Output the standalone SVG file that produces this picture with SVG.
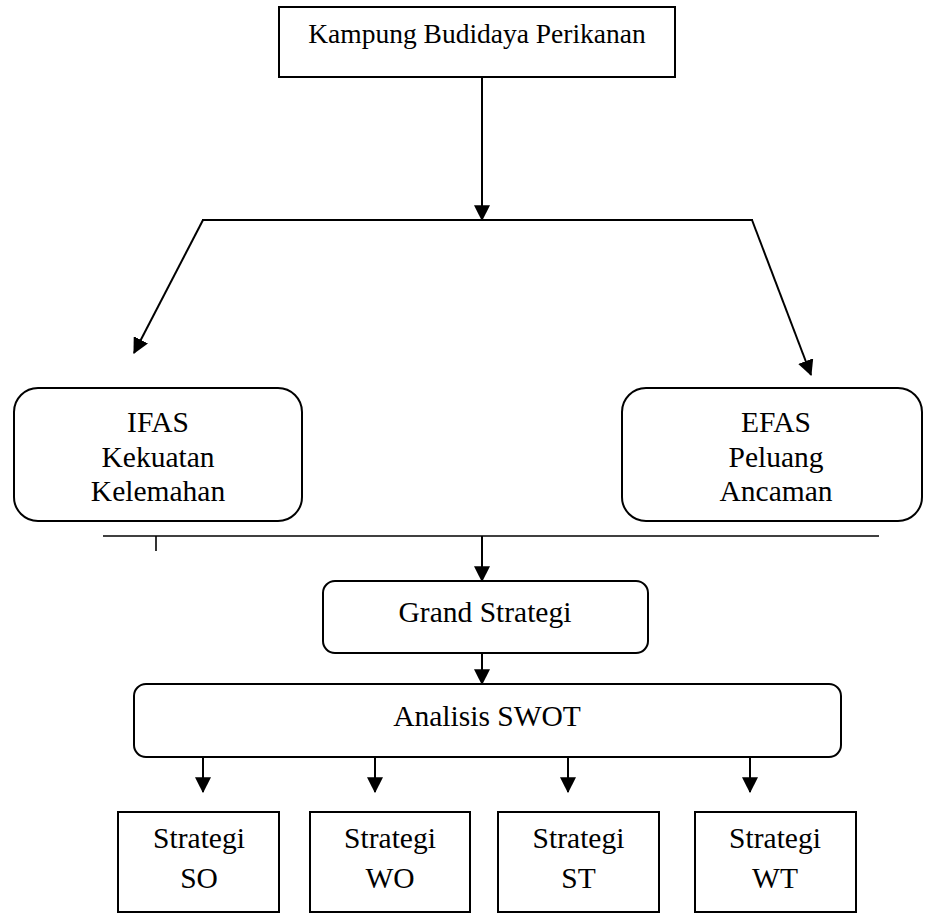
<svg xmlns="http://www.w3.org/2000/svg" width="925" height="915" viewBox="0 0 925 915">
<defs>
<style>
.box{fill:#fff;stroke:#000;stroke-width:2}
text{font-family:'Liberation Serif','Times New Roman',Times,serif;font-size:29.5px;fill:#000;text-anchor:middle}
.c{fill:none;stroke:#000;stroke-width:2}
.thin{fill:none;stroke:#000;stroke-width:1.6}
</style>
<marker id="ah" markerUnits="userSpaceOnUse" markerWidth="16" markerHeight="16" viewBox="0 0 14 14" refX="13" refY="7" orient="auto">
<path d="M0,0 L14,7 L0,14 z" fill="#000"/>
</marker>
</defs>
<rect width="925" height="915" fill="#fff"/>
<g id="connectors">
<line class="c" x1="482" y1="77" x2="482" y2="220" marker-end="url(#ah)"/>
<line class="c" x1="202" y1="220" x2="753" y2="220"/>
<line class="c" x1="203" y1="220" x2="134" y2="353" marker-end="url(#ah)"/>
<line class="c" x1="752" y1="220" x2="811" y2="375" marker-end="url(#ah)"/>
<line class="thin" x1="103" y1="536" x2="879" y2="536"/>
<line class="thin" x1="156" y1="536" x2="156" y2="551"/>
<line class="c" x1="482" y1="536" x2="482" y2="581" marker-end="url(#ah)"/>
<line class="c" x1="482" y1="653" x2="482" y2="684" marker-end="url(#ah)"/>
<line class="c" x1="203" y1="757" x2="203" y2="792" marker-end="url(#ah)"/>
<line class="c" x1="375" y1="757" x2="375" y2="792" marker-end="url(#ah)"/>
<line class="c" x1="568" y1="757" x2="568" y2="792" marker-end="url(#ah)"/>
<line class="c" x1="750" y1="757" x2="750" y2="792" marker-end="url(#ah)"/>
</g>
<g id="kampung">
<rect class="box" x="279" y="7" width="396" height="70"/>
<text x="477" y="43" font-family="Liberation Serif" style="font-size:27.5px">Kampung Budidaya Perikanan</text>
</g>
<g id="ifas">
<rect class="box" x="14" y="388" width="288" height="133" rx="24"/>
<text x="158" y="432">IFAS</text>
<text x="158" y="467">Kekuatan</text>
<text x="158" y="501">Kelemahan</text>
</g>
<g id="efas">
<rect class="box" x="622" y="388" width="300" height="133" rx="24"/>
<text x="776" y="432">EFAS</text>
<text x="776" y="467">Peluang</text>
<text x="776" y="501">Ancaman</text>
</g>
<g id="grand">
<rect class="box" x="323" y="581" width="325" height="72" rx="12"/>
<text x="485" y="622">Grand Strategi</text>
</g>
<g id="swot">
<rect class="box" x="134" y="684" width="707" height="73" rx="12"/>
<text x="487" y="726">Analisis SWOT</text>
</g>
<g id="so">
<rect class="box" x="118" y="812" width="161" height="100"/>
<text x="199" y="848">Strategi</text>
<text x="199" y="888">SO</text>
</g>
<g id="wo">
<rect class="box" x="310" y="812" width="160" height="100"/>
<text x="390" y="848">Strategi</text>
<text x="390" y="888">WO</text>
</g>
<g id="st">
<rect class="box" x="498" y="812" width="161" height="100"/>
<text x="578.5" y="848">Strategi</text>
<text x="578.5" y="888">ST</text>
</g>
<g id="wt">
<rect class="box" x="695" y="812" width="161" height="100"/>
<text x="775" y="848">Strategi</text>
<text x="775" y="888">WT</text>
</g>
</svg>
